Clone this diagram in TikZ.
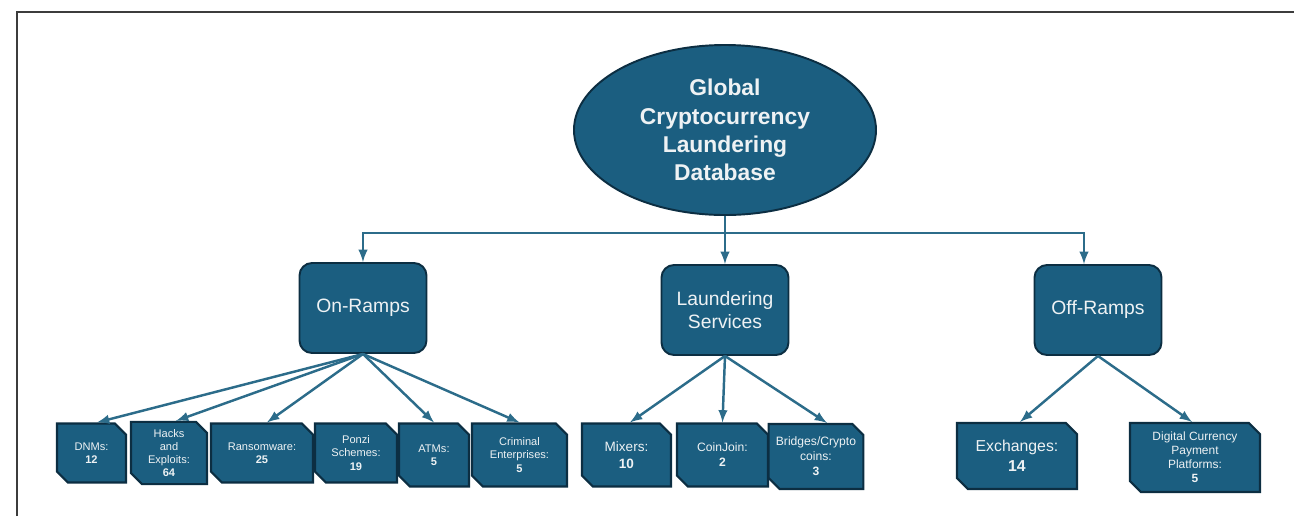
\documentclass[tikz,border=0pt]{standalone}
\usepackage{fontspec}
\setmainfont{Liberation Sans}
\usepackage{tikz}
\usetikzlibrary{positioning}
\usetikzlibrary{shapes.geometric, shapes.misc}
\definecolor{boxfill}{RGB}{27,94,128}
\definecolor{boxline}{RGB}{12,46,66}
\definecolor{boxtext}{RGB}{238,242,244}
\definecolor{linkcol}{RGB}{44,108,138}
\definecolor{framecol}{RGB}{60,60,60}
\tikzset{
	root/.style={draw=boxline, ellipse, line width=1.1pt, fill=boxfill, text=boxtext, minimum width=6.04cm, minimum height=3.4cm, inner sep=0pt, align=center, font=\fontsize{13}{16}\selectfont\bfseries},
	category/.style={draw=boxline, rectangle, rounded corners=0.25cm, line width=1.1pt, fill=boxfill, text=boxtext, minimum width=2.54cm, minimum height=1.8cm, inner sep=2pt, align=center, font=\fontsize{11}{13}\selectfont},
	% leaf boxes with two cut corners
	leaf/.style={draw=boxline, chamfered rectangle, chamfered rectangle corners={north east, south west}, chamfered rectangle xsep=0.11cm, chamfered rectangle ysep=0.11cm, line width=1.2pt, fill=boxfill, text=boxtext, minimum height=1.18cm, inner sep=1pt, align=center, font=\fontsize{6.3}{7.5}\selectfont},
}

\begin{document}
\begin{tikzpicture}[node distance=2.9cm]
	\useasboundingbox (-14.5,2.6) rectangle (11.38,-7.72);
	\draw[framecol, line width=1.1pt] (-14.16,-7.72) -- (-14.16,2.36) -- (11.38,2.36);

	\node (root) [root] {Global\\Cryptocurrency\\Laundering\\Database};

	\node (onramp) [category, below of=root, xshift=-7.24cm, yshift=-0.66cm] {On-Ramps};
	\node (laund) [category, below of=root, yshift=-0.7cm] {Laundering\\Services};
	\node (offramp) [category, below of=root, xshift=7.46cm, yshift=-0.7cm] {Off-Ramps};

	\coordinate (bus) at ([yshift=-0.34cm]root.south);

	\node (dnm) [leaf, below of=onramp, xshift=-5.43cm, minimum width=1.38cm] {DNMs:\\\textbf{12}};
	\node (hack) [leaf, below of=onramp, xshift=-3.88cm, minimum width=1.52cm] {Hacks\\and\\Exploits:\\\textbf{64}};
	\node (ransom) [leaf, below of=onramp, xshift=-2.02cm, minimum width=2.04cm] {Ransomware:\\\textbf{25}};
	\node (ponzi) [leaf, below of=onramp, xshift=-0.14cm, minimum width=1.64cm] {Ponzi\\Schemes:\\\textbf{19}};
	\node (atm) [leaf, below of=onramp, xshift=1.42cm, yshift=-0.04cm, minimum width=1.4cm, minimum height=1.26cm] {ATMs:\\\textbf{5}};
	\node (crim) [leaf, below of=onramp, xshift=3.13cm, yshift=-0.04cm, minimum width=1.9cm, minimum height=1.26cm] {Criminal\\Enterprises:\\\textbf{5}};

	\node (mixer) [leaf, below of=laund, xshift=-1.97cm, minimum width=1.78cm, minimum height=1.26cm, font=\fontsize{7.7}{9.4}\selectfont] {Mixers:\\\textbf{10}};
	\node (coinjoin) [leaf, below of=laund, xshift=-0.05cm, minimum width=1.82cm, minimum height=1.26cm, font=\fontsize{6.9}{8.5}\selectfont] {CoinJoin:\\\textbf{2}};
	\node (bridge) [leaf, below of=laund, xshift=1.82cm, yshift=-0.03cm, minimum width=1.76cm, minimum height=1.3cm, font=\fontsize{6.9}{8.5}\selectfont] {Bridges/Crypto\\coins:\\\textbf{3}};

	\node (exch) [leaf, below of=offramp, xshift=-1.62cm, yshift=-0.02cm, minimum width=2.4cm, minimum height=1.32cm, font=\fontsize{9}{11.3}\selectfont] {Exchanges:\\\textbf{14}};
	\node (dcpp) [leaf, below of=offramp, xshift=1.94cm, yshift=-0.05cm, minimum width=2.6cm, minimum height=1.38cm, font=\fontsize{6.8}{7.9}\selectfont] {Digital Currency\\Payment\\Platforms:\\\textbf{5}};

	\begin{scope}[line width=1.4pt, linkcol, ->, >=latex]
		\draw (root.south) -- (laund.north);
		\draw (bus) -| (onramp.north);
		\draw (bus) -| ([xshift=-0.28cm]offramp.north);
		\draw (onramp.south) -- ([xshift=0.11cm]dnm.north);
		\draw (onramp.south) -- ([xshift=0.14cm]hack.north);
		\draw (onramp.south) -- ([xshift=0.1cm]ransom.north);
		\draw (onramp.south) -- (atm.north);
		\draw (onramp.south) -- (crim.north);
		\draw (laund.south) -- ([xshift=0.07cm]mixer.north);
		\draw (laund.south) -- (coinjoin.north);
		\draw (laund.south) -- ([xshift=0.22cm]bridge.north);
		\draw (offramp.south) -- ([xshift=0.06cm]exch.north);
		\draw (offramp.south) -- ([xshift=-0.06cm]dcpp.north);
	\end{scope}
\end{tikzpicture}
\end{document}
